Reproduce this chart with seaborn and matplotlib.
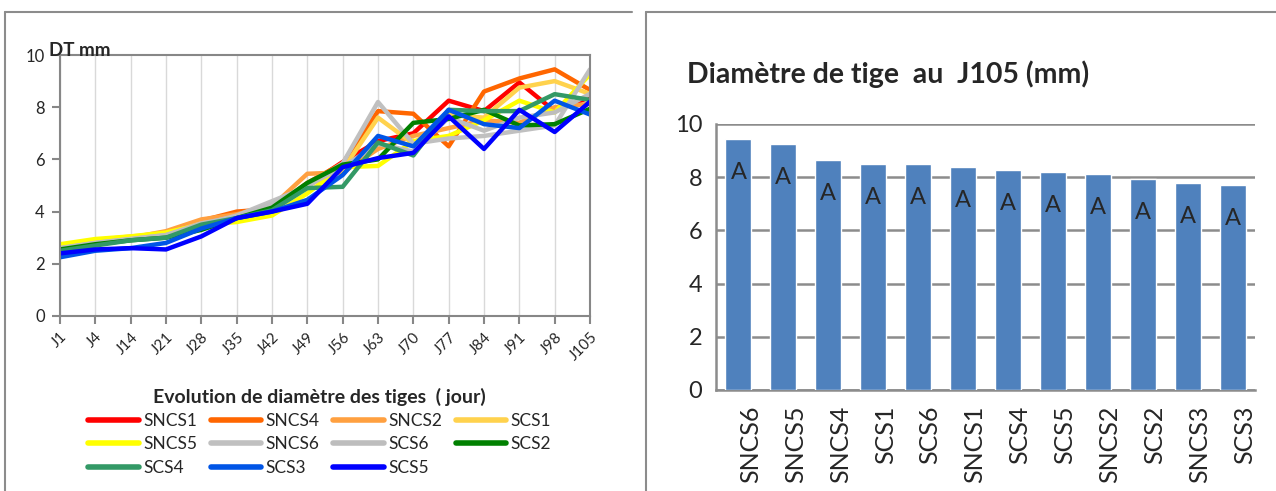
import numpy as np
import pandas as pd
import matplotlib
matplotlib.use("Agg")
import matplotlib.pyplot as plt
import matplotlib.transforms as mtransforms
from matplotlib.lines import Line2D
import seaborn as sns

# ── Data ─────────────────────────────────────────────────────────────────────
DAYS = ["J1", "J4", "J14", "J21", "J28", "J35", "J42", "J49",
        "J56", "J63", "J70", "J77", "J84", "J91", "J98", "J105"]

SNCS1 = [2.60, 2.80, 2.95, 3.10, 3.60, 3.90, 4.10, 5.00, 5.90, 6.70, 7.00, 8.25, 7.85, 8.95, 7.85, 8.39]
SNCS4 = [2.60, 2.80, 2.95, 3.20, 3.65, 4.00, 4.10, 5.10, 5.85, 7.85, 7.75, 6.50, 8.60, 9.10, 9.45, 8.66]
SNCS2 = [2.65, 2.85, 3.00, 3.25, 3.70, 3.90, 4.20, 5.45, 5.50, 6.40, 6.90, 7.20, 7.50, 7.40, 8.00, 8.13]
SCS1  = [2.70, 2.90, 3.05, 3.15, 3.55, 3.75, 4.15, 5.00, 5.60, 7.60, 6.60, 7.70, 7.60, 8.75, 9.00, 8.51]
SNCS5 = [2.75, 2.95, 3.05, 3.20, 3.50, 3.60, 3.85, 4.70, 5.70, 5.75, 6.70, 6.90, 7.50, 8.25, 7.80, 9.26]
SNCS6 = [2.60, 2.80, 2.95, 3.10, 3.50, 3.85, 4.40, 4.95, 5.85, 8.20, 6.60, 6.80, 6.90, 7.10, 7.30, 9.45]
SCS6  = [2.60, 2.80, 2.95, 3.10, 3.55, 3.80, 4.30, 5.00, 5.70, 6.60, 6.30, 7.60, 7.10, 7.60, 7.80, 8.51]
SCS2  = [2.55, 2.75, 2.90, 3.00, 3.30, 3.75, 4.15, 5.10, 5.80, 6.00, 7.40, 7.55, 7.90, 7.30, 7.35, 7.94]
SCS4  = [2.50, 2.70, 2.90, 3.00, 3.50, 3.75, 4.05, 4.90, 4.95, 6.65, 6.15, 7.90, 7.85, 7.85, 8.50, 8.28]
SCS3  = [2.25, 2.50, 2.60, 2.80, 3.35, 3.75, 4.00, 4.45, 5.40, 6.90, 6.50, 7.90, 7.35, 7.20, 8.25, 7.72]
SCS5  = [2.40, 2.55, 2.60, 2.55, 3.05, 3.75, 4.00, 4.30, 5.70, 6.05, 6.25, 7.65, 6.40, 7.90, 7.05, 8.21]

SERIES = {
    "SNCS1": SNCS1, "SNCS4": SNCS4, "SNCS2": SNCS2, "SCS1": SCS1,
    "SNCS5": SNCS5, "SNCS6": SNCS6, "SCS6": SCS6, "SCS2": SCS2,
    "SCS4": SCS4, "SCS3": SCS3, "SCS5": SCS5,
}
COLORS = ["#FF0000", "#FF6600", "#FFA040", "#FFD24D", "#FFFF00", "#C0C0C0",
          "#BDBDBD", "#008000", "#339966", "#0055E6", "#0000FF"]

BAR_LABELS = ["SNCS6", "SNCS5", "SNCS4", "SCS1", "SCS6", "SNCS1",
              "SCS4", "SCS5", "SNCS2", "SCS2", "SNCS3", "SCS3"]
BAR_VALUES = [9.45, 9.26, 8.66, 8.51, 8.51, 8.39, 8.28, 8.21, 8.13, 7.94, 7.79, 7.72]
BAR_GROUPS = ["A"] * len(BAR_LABELS)

GRAY = "#878787"
NCOL = 4

# ── Style ────────────────────────────────────────────────────────────────────
sns.set_theme(style="white")
plt.rcParams["font.family"] = ["Lato", "DejaVu Sans"]

W, H = 1276, 491
fig = plt.figure(figsize=(W / 100, H / 100), dpi=100)


def box(x0, y0, x1, y1):
    """figure fraction from pixel coords (top-left origin)"""
    return [x0 / W, 1 - y1 / H, (x1 - x0) / W, (y1 - y0) / H]


# ── Left: line chart ─────────────────────────────────────────────────────────
ax1 = fig.add_axes(box(60, 55, 590, 316))
long = pd.DataFrame(
    [(name, i, v) for name, vals in SERIES.items() for i, v in enumerate(vals)],
    columns=["serie", "pos", "DT"],
)
sns.lineplot(data=long, x="pos", y="DT", hue="serie", hue_order=list(SERIES),
             palette=COLORS, linewidth=3.2, ax=ax1, sort=False)

ax1.set_xlim(0, len(DAYS) - 1)
ax1.set_ylim(0, 10)
ax1.set_xticks(range(len(DAYS)))
ax1.set_xticklabels(DAYS, rotation=45, ha="right", rotation_mode="anchor", fontsize=11)
ax1.set_yticks(range(0, 11, 2))
ax1.tick_params(axis="y", labelsize=12, length=6, width=1.5, color=GRAY, pad=5, left=True)
ax1.tick_params(axis="x", length=6, width=1.5, color=GRAY, pad=4, bottom=True)
ax1.xaxis.grid(True, color="#D9D9D9", linewidth=1)
ax1.yaxis.grid(False)
ax1.set_xlabel("")
ax1.set_ylabel("")
for sp in ax1.spines.values():
    sp.set_color(GRAY)
    sp.set_linewidth(1.5)

# legend filled row by row (matplotlib fills columns), so reorder handles
handles, labels = ax1.get_legend_handles_labels()
n = len(labels)
nrows = -(-n // NCOL)
order = []
for c in range(NCOL):
    for r in range(nrows):
        k = r * NCOL + c
        if k < n:
            order.append(k)
ax1.get_legend().remove()
leg = ax1.legend(
    [handles[k] for k in order], [labels[k] for k in order],
    loc="upper center", bbox_to_anchor=(0.49, -0.215), ncol=NCOL,
    title="Evolution de diamètre des tiges  ( jour)", frameon=False,
    fontsize=12.5, title_fontproperties={"weight": "bold", "size": 14},
    handlelength=2.9, handletextpad=0.25, columnspacing=0.8, labelspacing=0.42,
)
for h in leg.get_lines():
    h.set_linewidth(4)

fig.text(49 / W, 1 - 50 / H, "DT mm", fontsize=13.5, fontweight="bold",
         ha="left", va="center")

# ── Right: bar chart ─────────────────────────────────────────────────────────
ax2 = fig.add_axes(box(716, 124, 1255, 390))
sns.barplot(x=BAR_LABELS, y=BAR_VALUES, color="#4F81BD", saturation=1,
            width=0.58, ax=ax2, zorder=3)
ax2.set_ylim(0, 10)
ax2.set_yticks(range(0, 11, 2))
ax2.yaxis.grid(True, color="#8C8C8C", linewidth=1.8, zorder=0)
ax2.set_axisbelow(True)
ax2.tick_params(axis="y", labelsize=17, length=0, pad=10)
ax2.tick_params(axis="x", labelsize=18, length=0, pad=11, labelrotation=90)
for sp in ["top", "right"]:
    ax2.spines[sp].set_visible(False)
for sp in ["left", "bottom"]:
    ax2.spines[sp].set_color("#8C8C8C")
    ax2.spines[sp].set_linewidth(1.8)
shift = mtransforms.ScaledTranslation(12 / 100, 0, fig.dpi_scale_trans)
for lab in ax2.get_xticklabels():
    lab.set_transform(lab.get_transform() + shift)

for i, (v, g) in enumerate(zip(BAR_VALUES, BAR_GROUPS)):
    ax2.text(i, v - 1.28, g, ha="center", va="center", fontsize=17, zorder=4)

fig.text(687 / W, 1 - 74 / H, "Diamètre de tige  au  J105 (mm)", fontsize=20.5,
         fontweight="bold", ha="left", va="center")

# ── Chart frames ─────────────────────────────────────────────────────────────
for xs, ys in [([5, 632], [12, 12]), ([5, 5], [12, H]),
               ([646, W], [12, 12]), ([646, 646], [12, H])]:
    fig.add_artist(Line2D([x / W for x in xs], [1 - y / H for y in ys],
                          color="#8C8C8C", linewidth=1.5))

fig.savefig("out.png", dpi=100)
